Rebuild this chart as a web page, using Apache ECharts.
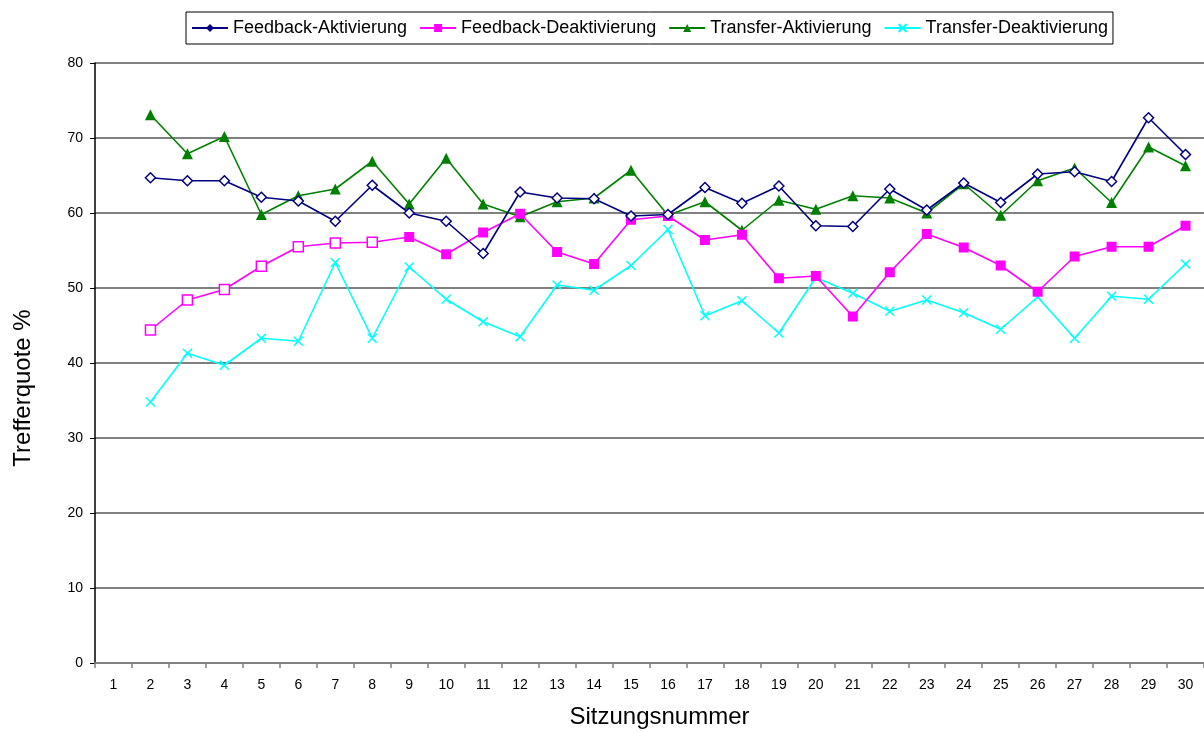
<!DOCTYPE html>
<html>
<head>
<meta charset="utf-8">
<script src="https://cdn.jsdelivr.net/npm/echarts@6/dist/echarts.min.js"></script>
<style>
html,body{margin:0;padding:0;background:#fff;}
#c{width:1204px;height:733px;}
</style>
</head>
<body>
<div id="c"></div>
<script>
const sessions = ['1','2','3','4','5','6','7','8','9','10','11','12','13','14','15','16','17','18','19','20','21','22','23','24','25','26','27','28','29','30'];
const seriesNames = ['Feedback-Aktivierung','Feedback-Deaktivierung','Transfer-Aktivierung','Transfer-Deaktivierung'];
const feedbackAkt = [null,64.7,64.3,64.3,62.1,61.6,58.9,63.7,60.0,58.9,54.6,62.8,62.0,61.9,59.6,59.8,63.4,61.3,63.6,58.3,58.2,63.2,60.4,64.0,61.4,65.2,65.5,64.2,72.7,67.8];
const feedbackDeakt = [null,44.4,48.4,49.8,52.9,55.5,56.0,56.1,56.8,54.5,57.4,59.9,54.8,53.2,59.1,59.6,56.4,57.1,51.3,51.6,46.2,52.1,57.2,55.4,53.0,49.5,54.2,55.5,55.5,58.3];
const transferAkt = [null,73.1,67.9,70.2,59.8,62.3,63.2,66.9,61.2,67.3,61.2,59.5,61.5,62.0,65.7,59.7,61.5,57.7,61.7,60.5,62.3,62.0,60.0,63.9,59.7,64.3,66.0,61.4,68.8,66.3];
const transferDeakt = [null,34.8,41.3,39.7,43.3,42.9,53.4,43.3,52.8,48.5,45.5,43.5,50.4,49.7,53.0,57.8,46.3,48.3,44.0,51.4,49.3,46.9,48.4,46.7,44.5,48.8,43.3,48.9,48.5,53.2];
// sessions drawn with hollow markers
const hollowFeedbackAkt = ['2','3','4','5','6','7','8','9','10','11','12','13','14','15','16','17','18','19','20','21','22','23','24','25','26','27','28','29','30'];
const hollowFeedbackDeakt = ['2','3','4','5','6','7','8'];
const yTicks = [0,10,20,30,40,50,60,70,80];

const colors = ['#000080','#FF00FF','#008000','#00FFFF'];
function build(values, hollow, color){
  return values.map((v,i)=>{
    if (hollow && hollow.indexOf(sessions[i])>=0 && v!=null){
      return {value:v, itemStyle:{color:'#ffffff', borderColor:color, borderWidth:1.5}};
    }
    return v;
  });
}
const crossPath = 'path://M0,0L10,10M10,0L0,10';
const chart = echarts.init(document.getElementById('c'), null, {renderer:'canvas'});
const font = 'Liberation Sans, Arial, sans-serif';
chart.setOption({
  animation:false,
  backgroundColor:'#ffffff',
  textStyle:{fontFamily:font},
  legend:{
    top:12, left:186,
    data:seriesNames,
    borderColor:'#000', borderWidth:1,
    padding:[7,5,7,5],
    itemGap:12, itemWidth:36, itemHeight:10,
    textStyle:{fontSize:18, color:'#000', fontFamily:font}
  },
  grid:{left:95, right:0, top:63, bottom:70, outerBoundsMode:'none', containLabel:false},
  xAxis:{
    type:'category', data:sessions, boundaryGap:true,
    name:'Sitzungsnummer', nameLocation:'middle', nameGap:42,
    nameTextStyle:{fontSize:24, color:'#000', fontFamily:font, padding:[0,0,0,20]},
    axisLine:{lineStyle:{color:'#808080', width:2}},
    axisTick:{show:true, alignWithLabel:false, length:5, lineStyle:{color:'#808080', width:1.5}},
    axisLabel:{fontSize:14, color:'#000', margin:15, fontFamily:font},
    splitLine:{show:false}
  },
  yAxis:{
    type:'value', min:yTicks[0], max:yTicks[yTicks.length-1], interval:10,
    name:'Trefferquote %', nameLocation:'middle', nameGap:60, nameRotate:90,
    nameTextStyle:{fontSize:24, color:'#000', fontFamily:font, padding:[0,50,0,0]},
    axisLine:{show:true, lineStyle:{color:'#000', width:1.5}},
    axisTick:{show:true, length:5, lineStyle:{color:'#000', width:1}},
    axisLabel:{fontSize:14, color:'#000', margin:12, fontFamily:font},
    splitLine:{show:true, lineStyle:{color:'#808080', width:2}}
  },
  series:[
    {name:seriesNames[0], type:'line', data:build(feedbackAkt, hollowFeedbackAkt, colors[0]),
     symbol:'diamond', symbolSize:10, showAllSymbol:true, connectNulls:false,
     itemStyle:{color:colors[0]}, lineStyle:{color:colors[0], width:1.6}, z:4},
    {name:seriesNames[1], type:'line', data:build(feedbackDeakt, hollowFeedbackDeakt, colors[1]),
     symbol:'rect', symbolSize:10, showAllSymbol:true,
     itemStyle:{color:colors[1]}, lineStyle:{color:colors[1], width:1.6}, z:3},
    {name:seriesNames[2], type:'line', data:transferAkt,
     symbol:'triangle', symbolSize:11, showAllSymbol:true,
     itemStyle:{color:colors[2]}, lineStyle:{color:colors[2], width:1.6}, z:2},
    {name:seriesNames[3], type:'line', data:transferDeakt,
     symbol:crossPath, symbolSize:9, showAllSymbol:true,
     itemStyle:{color:colors[3], borderColor:colors[3], borderWidth:1.5}, lineStyle:{color:colors[3], width:1.6}, z:1}
  ]
});
</script>
</body>
</html>
